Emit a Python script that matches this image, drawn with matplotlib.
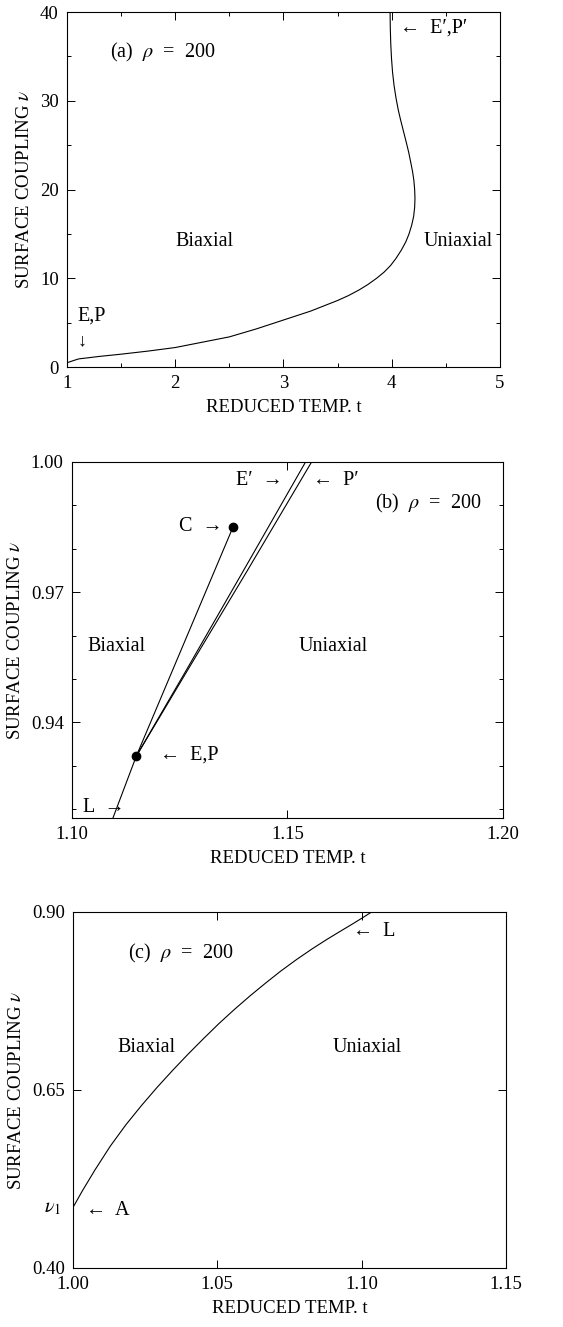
import matplotlib
matplotlib.use("Agg")
import matplotlib.pyplot as plt
from matplotlib.ticker import FixedLocator, MultipleLocator

plt.rcParams["font.family"] = ["Liberation Serif", "DejaVu Serif"]
plt.rcParams["mathtext.fontset"] = "stix"

# (a) phase boundary, rho = 200
t_a = [1.00, 1.05, 1.10, 1.115, 1.20, 1.30, 1.50, 1.75, 2.00, 2.25, 2.50, 2.75,
       3.00, 3.25, 3.50, 3.60, 3.70, 3.78, 3.86, 3.93, 3.99, 4.04, 4.09, 4.13,
       4.16, 4.185, 4.203, 4.212, 4.215, 4.212, 4.205, 4.193, 4.177, 4.157,
       4.133, 4.108, 4.083, 4.06, 4.04, 4.022, 4.008, 3.998, 3.991, 3.987, 3.985]
nu_a = [0.48, 0.69, 0.89, 0.93, 1.05, 1.20, 1.45, 1.80, 2.20, 2.80, 3.40, 4.30,
        5.30, 6.30, 7.50, 8.05, 8.70, 9.30, 10.0, 10.7, 11.45, 12.25, 13.2, 14.1,
        15.0, 16.0, 17.0, 18.0, 19.0, 20.0, 21.0, 22.0, 23.0, 24.2,
        25.4, 26.6, 27.8, 29.0, 30.3, 31.7, 33.2, 34.8, 36.5, 38.2, 40.0]

# (b) close-up near E,P
t_L = [1.1095, 1.1149]
nu_L = [0.918, 0.9322]
t_C = [1.1149, 1.1374]
nu_C = [0.9322, 0.9851]
t_E2 = [1.1149, 1.1265, 1.1398, 1.1542]
nu_E2 = [0.9322, 0.9520, 0.9750, 1.0000]
t_P2 = [1.1149, 1.1268, 1.1407, 1.1556]
nu_P2 = [0.9322, 0.9520, 0.9750, 1.0000]
t_dots = [1.1149, 1.1374]
nu_dots = [0.9322, 0.9851]

# (c) low-coupling part, from A to L
t_c = [1.000, 1.0032, 1.0075, 1.0129, 1.0183, 1.0237, 1.0290, 1.0344, 1.0398,
       1.0452, 1.0505, 1.0559, 1.0613, 1.0667, 1.0720, 1.0774, 1.0828, 1.0882,
       1.0935, 1.0968, 1.1000, 1.1035]
nu_c = [0.485, 0.508, 0.537, 0.571, 0.601, 0.628, 0.653, 0.677, 0.700,
        0.722, 0.743, 0.763, 0.782, 0.800, 0.817, 0.833, 0.848, 0.862,
        0.875, 0.883, 0.891, 0.900]

fig = plt.figure(figsize=(5.63, 13.27), dpi=100)
ax_a = fig.add_axes([0.119, 0.7234, 0.769, 0.2675])
ax_b = fig.add_axes([0.1279, 0.3836, 0.7655, 0.2683])
ax_c = fig.add_axes([0.1297, 0.0445, 0.769, 0.2683])

lw = 0.8
fs_tick = 13.5
fs_txt = 14.5

for ax in (ax_a, ax_b, ax_c):
    ax.tick_params(which="both", direction="in", top=True, right=True,
                   labelsize=fs_tick, width=0.7, pad=6)
    ax.tick_params(which="major", length=6)
    ax.tick_params(which="minor", length=3)
    for s in ax.spines.values():
        s.set_linewidth(0.8)
    ax.set_xlabel("REDUCED TEMP. t", fontsize=13.5, labelpad=5)
    ax.set_ylabel(r"SURFACE COUPLING $\nu$", fontsize=13.5, labelpad=5)

# (a)
ax_a.plot(t_a, nu_a, color="black", lw=lw)
ax_a.set_xlim(1, 5)
ax_a.set_ylim(0, 40)
ax_a.xaxis.set_major_locator(MultipleLocator(1))
ax_a.xaxis.set_minor_locator(MultipleLocator(0.5))
ax_a.yaxis.set_major_locator(MultipleLocator(10))
ax_a.yaxis.set_minor_locator(MultipleLocator(5))
ax_a.text(1.40, 35.4, r"(a)  $\rho$  =  200", fontsize=fs_txt, va="center")
ax_a.text(2.27, 14.1, "Biaxial", fontsize=fs_txt, ha="center", va="center")
ax_a.text(4.61, 14.1, "Uniaxial", fontsize=fs_txt, ha="center", va="center")
ax_a.text(1.10, 5.7, "E,P", fontsize=fs_txt, va="center")
ax_a.text(1.14, 3.0, "↓", fontsize=13, ha="center", va="center")
ax_a.text(4.08, 38.2, "←  E′,P′", fontsize=fs_txt, va="center")

# (b)
ax_b.plot(t_L, nu_L, color="black", lw=lw)
ax_b.plot(t_C, nu_C, color="black", lw=lw)
ax_b.plot(t_E2, nu_E2, color="black", lw=lw)
ax_b.plot(t_P2, nu_P2, color="black", lw=lw)
ax_b.plot(t_dots, nu_dots, "o", color="black", ms=6, ls="none")
ax_b.set_xlim(1.10, 1.20)
ax_b.set_ylim(0.918, 1.00)
ax_b.xaxis.set_major_locator(FixedLocator([1.10, 1.15, 1.20]))
ax_b.yaxis.set_major_locator(FixedLocator([0.94, 0.97, 1.00]))
ax_b.yaxis.set_minor_locator(FixedLocator([0.92, 0.93, 0.95, 0.96, 0.98, 0.99]))
ax_b.xaxis.set_major_formatter(plt.FormatStrFormatter("%.2f"))
ax_b.yaxis.set_major_formatter(plt.FormatStrFormatter("%.2f"))
ax_b.text(1.1703, 0.9905, r"(b)  $\rho$  =  200", fontsize=fs_txt, va="center")
ax_b.text(1.1104, 0.9576, "Biaxial", fontsize=fs_txt, ha="center", va="center")
ax_b.text(1.1606, 0.9576, "Uniaxial", fontsize=fs_txt, ha="center", va="center")
ax_b.text(1.1350, 0.9851, "C  →", fontsize=fs_txt, ha="right", va="center")
ax_b.text(1.1490, 0.9958, "E′  →", fontsize=fs_txt, ha="right", va="center")
ax_b.text(1.1559, 0.9958, "←  P′", fontsize=fs_txt, va="center")
ax_b.text(1.1204, 0.9325, "←  E,P", fontsize=fs_txt, va="center")
ax_b.text(1.1026, 0.9205, "L  →", fontsize=fs_txt, va="center")

# (c)
ax_c.plot(t_c, nu_c, color="black", lw=lw)
ax_c.set_xlim(1.00, 1.15)
ax_c.set_ylim(0.40, 0.90)
ax_c.xaxis.set_major_locator(FixedLocator([1.00, 1.05, 1.10, 1.15]))
ax_c.yaxis.set_major_locator(FixedLocator([0.40, 0.65, 0.90]))
ax_c.xaxis.set_major_formatter(plt.FormatStrFormatter("%.2f"))
ax_c.yaxis.set_major_formatter(plt.FormatStrFormatter("%.2f"))
ax_c.text(1.019, 0.842, r"(c)  $\rho$  =  200", fontsize=fs_txt, va="center")
ax_c.text(1.0253, 0.709, "Biaxial", fontsize=fs_txt, ha="center", va="center")
ax_c.text(1.102, 0.709, "Uniaxial", fontsize=fs_txt, ha="center", va="center")
ax_c.text(1.097, 0.872, "←  L", fontsize=fs_txt, va="center")
ax_c.text(1.0045, 0.480, "←  A", fontsize=fs_txt, va="center")
ax_c.text(0.996, 0.484, r"$\nu_1$", fontsize=fs_txt, ha="right", va="center",
          clip_on=False)

fig.savefig("out.png", dpi=100)
